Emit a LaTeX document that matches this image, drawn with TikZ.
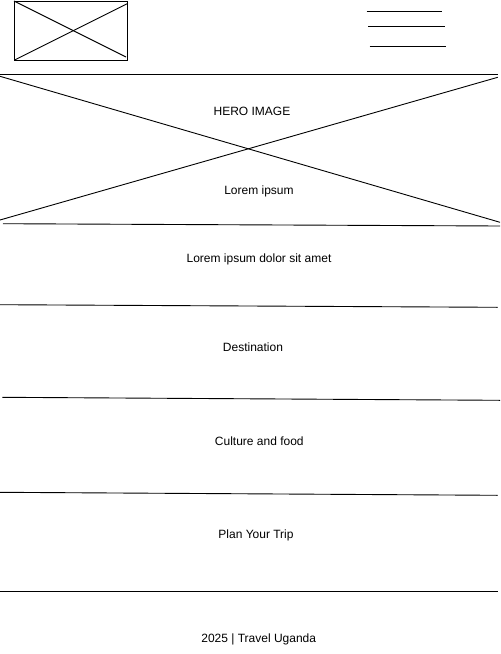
\documentclass[tikz,border=0pt]{standalone}
\usepackage{fontspec}
\setmainfont{Liberation Sans}
\tikzset{
  wire/.style={line width=0.9pt},
  label/.style={font=\fontsize{12}{14}\selectfont, inner sep=0pt, anchor=base}
}
\begin{document}
\begin{tikzpicture}[x=1pt, y=-1pt]
    \useasboundingbox (0, 0) rectangle (501, 654);
    % logo
    \draw[wire] (14, 1) rectangle (127.5, 60.5);
    \draw[wire] (14, 1) -- (126, 57);
    \draw[wire] (14.5, 60) -- (127.5, 3.5);
    % menu
    \draw[wire] (366.5, 11.3) -- (442.3, 11.3);
    \draw[wire] (368, 26) -- (444.5, 26);
    \draw[wire] (369.5, 46.3) -- (445.5, 46.3);
    % hero
    \draw[wire] (0, 74.3) -- (497.7, 74.3);
    \draw[wire] (0, 76.3) -- (500, 222.3);
    \draw[wire] (0, 220) -- (497.7, 77.3);
    \draw[wire] (3, 223.7) -- (500, 226);
    \node[label] (hero) at (252, 115.3) {HERO IMAGE};
    \node[label] (lorem) at (259, 194.3) {Lorem ipsum};
    % sections
    \node[label] (intro) at (259, 262) {Lorem ipsum dolor sit amet};
    \draw[wire] (0, 304.7) -- (497.7, 307.3);
    \node[label] (dest) at (253, 351.7) {Destination};
    \draw[wire] (2.3, 397.3) -- (500, 400.3);
    \node[label] (culture) at (259.3, 445.3) {Culture and food};
    \draw[wire] (0, 492.3) -- (497.7, 495.3);
    \node[label] (plan) at (256, 538.3) {Plan Your Trip};
    \draw[wire] (0, 591.3) -- (497.7, 591.3);
    % footer
    \node[label] (footer) at (258.7, 642.7) {2025 | Travel Uganda};
  \end{tikzpicture}
\end{document}
